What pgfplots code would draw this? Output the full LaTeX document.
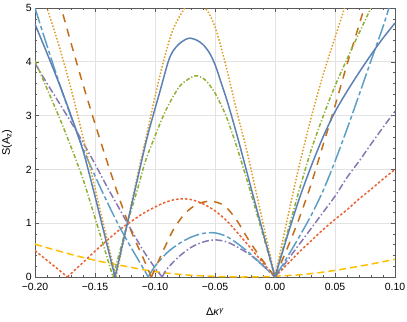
\documentclass[border=0pt]{standalone}
\usepackage{pgfplots}
\pgfplotsset{compat=1.18}
\usepackage{fontspec}
\setmainfont{Liberation Sans}
\definecolor{cB}{HTML}{5E81B5}
\definecolor{cO}{HTML}{E19C24}
\definecolor{cG}{HTML}{8FB032}
\definecolor{cR}{HTML}{EB6235}
\definecolor{cP}{HTML}{8778B3}
\definecolor{cD}{HTML}{C56E1A}
\definecolor{cL}{HTML}{5D9EC7}
\definecolor{cY}{HTML}{FFBF00}
\begin{document}
\begin{tikzpicture}
\path[use as bounding box] (-35bp,-45bp) rectangle (372bp,277bp);
\begin{axis}[
  scale only axis, width=360bp, height=269bp,
  at={(0,0)}, anchor=south west,
  xmin=-0.2, xmax=0.1, ymin=0, ymax=5,
  xtick={-0.2,-0.15,-0.1,-0.05,0,0.05,0.1},
  xticklabels={−0.20,−0.15,−0.10,−0.05,0.00,0.05,0.10},
  ytick={0,1,2,3,4,5},
  yticklabels={0,1,2,3,4,5},
  minor x tick num=4, minor y tick num=4,
  tick align=inside,
  major tick length=4bp, minor tick length=2bp,
  every tick/.style={gray!70!black, line width=0.5bp},
  axis line style={gray!70!black, line width=0.6bp},
  grid=major, major grid style={gray!22, line width=0.8bp},
  ticklabel style={font=\fontsize{10.5}{12}\selectfont, inner sep=1bp},
  xticklabel style={yshift=-4.5bp},
  yticklabel style={xshift=-2bp},
  xlabel={Δ\textit{κ}\textsuperscript{\textit{γ}}},
  ylabel={S(A\textsubscript{z})},
  every axis x label/.style={at={(axis description cs:0.5,-0.13)}, anchor=center, font=\fontsize{11}{12}\selectfont},
  every axis y label/.style={at={(axis description cs:-0.078,0.5)}, rotate=90, anchor=center, font=\fontsize{11}{12}\selectfont},
  clip=true,
  every axis plot/.append style={line width=1.5bp, smooth, tension=0.5, no markers},
]
% yellow dashed
\addplot[cY, dash pattern=on 7bp off 4bp] coordinates {
(-0.2,0.61)(-0.175,0.45)(-0.15,0.31)(-0.125,0.2)(-0.1,0.1)(-0.075,0.04)(-0.05,0.012)(-0.03,0)(-0.01,0.005)(0,0.015)(0.02,0.04)(0.04,0.09)(0.06,0.16)(0.08,0.24)(0.1,0.33)};
% red-orange small dashes
\addplot[cR, dash pattern=on 2.5bp off 2bp] coordinates {
(-0.2,0.49)(-0.19,0.31)(-0.18,0.13)(-0.173,0)};
\addplot[cR, dash pattern=on 2.5bp off 2bp] coordinates {
(-0.173,0)(-0.16,0.27)(-0.15,0.48)(-0.14,0.68)(-0.13,0.87)(-0.12,1.03)(-0.11,1.18)(-0.1,1.3)(-0.09,1.4)(-0.08,1.45)(-0.07,1.44)(-0.06,1.36)(-0.05,1.23)(-0.04,1.04)(-0.03,0.79)(-0.02,0.53)(-0.01,0.26)(0,0)};
\addplot[cR, dash pattern=on 2.5bp off 2bp] coordinates {
(0,0)(0.01,0.23)(0.02,0.46)(0.03,0.67)(0.04,0.88)(0.05,1.07)(0.06,1.25)(0.07,1.45)(0.08,1.63)(0.09,1.82)(0.1,2.0)};
% purple dash-dot
\addplot[cP, dash pattern=on 7bp off 2.5bp on 1.5bp off 2.5bp] coordinates {
(-0.2,3.97)(-0.19,3.6)(-0.18,3.24)(-0.17,2.88)(-0.16,2.5)(-0.15,2.1)(-0.14,1.68)(-0.13,1.28)(-0.123,1.0)(-0.11,0.5)(-0.1,0.17)(-0.094,0)};
\addplot[cP, dash pattern=on 7bp off 2.5bp on 1.5bp off 2.5bp] coordinates {
(-0.094,0)(-0.09,0.15)(-0.08,0.38)(-0.07,0.55)(-0.06,0.65)(-0.05,0.69)(-0.04,0.65)(-0.03,0.54)(-0.02,0.4)(-0.01,0.21)(0,0)};
\addplot[cP, dash pattern=on 7bp off 2.5bp on 1.5bp off 2.5bp] coordinates {
(0,0)(0.01,0.3)(0.02,0.6)(0.03,0.9)(0.04,1.2)(0.05,1.5)(0.06,1.85)(0.07,2.15)(0.08,2.47)(0.09,2.78)(0.1,3.08)};
% light blue long-short dash
\addplot[cL, dash pattern=on 16bp off 3bp on 4bp off 3bp] coordinates {
(-0.2,5.0)(-0.19,4.3)(-0.18,3.62)(-0.17,2.98)(-0.16,2.39)(-0.15,1.88)(-0.14,1.4)(-0.13,0.95)(-0.12,0.55)(-0.11,0.17)(-0.1056,0)};
\addplot[cL, dash pattern=on 16bp off 3bp on 4bp off 3bp] coordinates {
(-0.1056,0)(-0.1,0.2)(-0.09,0.45)(-0.08,0.62)(-0.07,0.74)(-0.06,0.81)(-0.05,0.82)(-0.04,0.75)(-0.03,0.6)(-0.02,0.42)(-0.01,0.21)(0,0)};
\addplot[cL, dash pattern=on 16bp off 3bp on 4bp off 3bp] coordinates {
(0,0)(0.01,0.36)(0.02,0.74)(0.03,1.14)(0.04,1.6)(0.05,2.15)(0.06,2.75)(0.07,3.38)(0.08,4.02)(0.09,4.65)(0.095,5.0)(0.1,5.3)};
% dark orange dashed
\addplot[cD, dash pattern=on 8bp off 7bp] coordinates {
(-0.18,5.15)(-0.17,4.35)(-0.16,3.58)(-0.15,2.85)(-0.14,2.15)(-0.13,1.48)(-0.12,0.86)(-0.11,0.36)(-0.103,0)};
\addplot[cD, dash pattern=on 8bp off 7bp] coordinates {
(-0.103,0)(-0.095,0.4)(-0.09,0.64)(-0.085,0.87)(-0.08,1.04)(-0.075,1.18)(-0.07,1.28)(-0.065,1.35)(-0.06,1.39)(-0.053,1.41)(-0.045,1.36)(-0.04,1.28)(-0.035,1.15)(-0.03,0.99)(-0.025,0.8)(-0.02,0.62)(-0.01,0.3)(0,0)};
\addplot[cD, dash pattern=on 8bp off 7bp] coordinates {
(0,0)(0.01,0.52)(0.02,1.08)(0.03,1.72)(0.04,2.45)(0.05,3.18)(0.06,3.95)(0.07,4.68)(0.075,5.05)};
% green dash-dot
\addplot[cG, dash pattern=on 4bp off 2bp on 1.2bp off 2bp] coordinates {
(-0.2,4.02)(-0.19,3.5)(-0.18,2.98)(-0.17,2.42)(-0.16,1.82)(-0.15,1.1)(-0.14,0.37)(-0.135,0)};
\addplot[cG, dash pattern=on 4bp off 2bp on 1.2bp off 2bp] coordinates {
(-0.135,0)(-0.123,1.0)(-0.115,1.6)(-0.108,2.15)(-0.1,2.62)(-0.092,3.05)(-0.085,3.35)(-0.078,3.58)(-0.0667,3.74)(-0.058,3.66)(-0.05,3.42)(-0.045,3.2)(-0.04,2.95)(-0.031,2.36)(-0.02,1.55)(-0.01,0.78)(0,0)};
\addplot[cG, dash pattern=on 4bp off 2bp on 1.2bp off 2bp] coordinates {
(0,0)(0.01,0.8)(0.02,1.6)(0.03,2.35)(0.04,2.98)(0.05,3.55)(0.06,4.05)(0.07,4.53)(0.08,5.0)(0.085,5.2)};
% orange dotted
\addplot[cO, dash pattern=on 1.5bp off 1.8bp] coordinates {
(-0.193,5.2)(-0.19,5.0)(-0.18,4.3)(-0.17,3.5)(-0.16,2.6)(-0.15,1.65)(-0.14,0.7)(-0.1325,0)};
\addplot[cO, dash pattern=on 1.5bp off 1.8bp] coordinates {
(-0.1325,0)(-0.123,1.0)(-0.115,1.85)(-0.107,2.64)(-0.1,3.35)(-0.093,4.0)(-0.085,4.6)(-0.075,5.0)(-0.067,5.1)(-0.058,5.0)(-0.05,4.65)(-0.0417,4.0)(-0.031,3.0)(-0.0236,2.36)(-0.012,1.2)(0,0)};
\addplot[cO, dash pattern=on 1.5bp off 1.8bp] coordinates {
(0,0)(0.01,1.05)(0.02,2.05)(0.03,2.95)(0.04,3.75)(0.05,4.45)(0.058,5.0)(0.065,5.45)};
% blue solid
\addplot[cB] coordinates {
(-0.2,4.70)(-0.19,4.16)(-0.18,3.6)(-0.17,3.0)(-0.16,2.35)(-0.15,1.5)(-0.14,0.6)(-0.1333,0)};
\addplot[cB] coordinates {
(-0.1333,0)(-0.123,1.0)(-0.115,1.78)(-0.106,2.64)(-0.096,3.44)(-0.089,4.0)(-0.085,4.2)(-0.08,4.33)(-0.075,4.41)(-0.0708,4.44)(-0.065,4.40)(-0.06,4.32)(-0.055,4.18)(-0.05,3.95)(-0.045,3.62)(-0.04,3.28)(-0.035,2.9)(-0.03,2.5)(-0.02,1.66)(-0.01,0.83)(0,0)};
\addplot[cB] coordinates {
(0,0)(0.01,0.74)(0.02,1.44)(0.03,2.05)(0.04,2.6)(0.05,3.07)(0.06,3.45)(0.07,3.8)(0.08,4.13)(0.09,4.44)(0.1,4.72)};
\end{axis}
\end{tikzpicture}
\end{document}
